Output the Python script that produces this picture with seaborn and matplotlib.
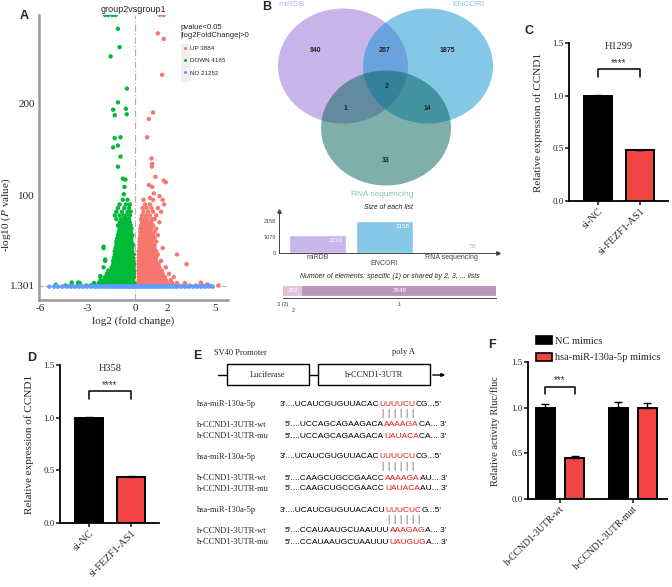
import matplotlib
matplotlib.use("Agg")
import matplotlib.pyplot as plt
from matplotlib.patches import Ellipse, Rectangle
from matplotlib.ticker import FormatStrFormatter
import seaborn as sns
import pandas as pd

sns.set_style("white")
plt.rcParams["font.family"] = ["Liberation Sans", "DejaVu Sans"]
plt.rcParams["mathtext.fontset"] = "stix"
plt.rcParams["axes.unicode_minus"] = False
SERIF = ["Liberation Serif", "DejaVu Serif"]

# ---------------- data ----------------
# A: volcano plot (log2 fold change, -log10 p)
group_labels = ["UP 3884", "DOWN 4165", "NO 21252"]
group_colors = ["#F8766D", "#00BA38", "#619CFF"]

down_rows = [
    (1.8, [-5.0, -4.4, -4.0, -3.6, -3.1, -2.8, -2.5, -2.2, -2.0, -1.8, -1.6, -1.4, -1.2, -1.0, -0.8, -0.6, -0.4, -0.25, -0.1]),
    (4.5, [-3.5, -2.6, -2.3, -2.1, -1.9, -1.7, -1.5, -1.3, -1.1, -0.9, -0.7, -0.5, -0.35, -0.2, -0.08]),
    (7.5, [-2.2, -2.0, -1.8, -1.6, -1.4, -1.2, -1.0, -0.8, -0.6, -0.45, -0.3, -0.15]),
    (11, [-2.2, -1.9, -1.7, -1.5, -1.3, -1.1, -0.9, -0.7, -0.55, -0.4, -0.25, -0.1]),
    (14.5, [-1.8, -1.6, -1.4, -1.2, -1.0, -0.85, -0.7, -0.55, -0.4, -0.25, -0.1]),
    (18, [-1.7, -1.5, -1.3, -1.1, -0.95, -0.8, -0.65, -0.5, -0.35, -0.2, -0.08]),
    (21.5, [-2.0, -1.5, -1.3, -1.15, -1.0, -0.85, -0.7, -0.55, -0.4, -0.25, -0.12]),
    (25, [-1.4, -1.25, -1.1, -0.95, -0.8, -0.65, -0.5, -0.35, -0.2, -0.08]),
    (28.5, [-1.9, -1.4, -1.2, -1.05, -0.9, -0.75, -0.6, -0.45, -0.3, -0.15]),
    (32, [-1.35, -1.2, -1.05, -0.9, -0.75, -0.6, -0.45, -0.3, -0.15]),
    (35.5, [-1.3, -1.15, -1.0, -0.85, -0.7, -0.55, -0.4, -0.25, -0.1]),
    (39, [-1.3, -1.1, -0.95, -0.8, -0.65, -0.5, -0.35, -0.2]),
    (42.5, [-2.0, -1.25, -1.1, -0.95, -0.8, -0.65, -0.5, -0.35, -0.2]),
    (46, [-1.2, -1.05, -0.9, -0.75, -0.6, -0.45, -0.3, -0.15]),
    (49.5, [-1.2, -1.0, -0.85, -0.7, -0.55, -0.4, -0.25]),
    (53, [-1.15, -1.0, -0.85, -0.7, -0.55, -0.4, -0.25]),
    (56.5, [-1.1, -0.95, -0.8, -0.65, -0.5, -0.35, -0.2]),
    (60, [-1.05, -0.9, -0.75, -0.6, -0.45, -0.3]),
    (63.5, [-1.0, -0.85, -0.7, -0.55, -0.4, -0.25]),
    (67, [-1.1, -0.9, -0.75, -0.6, -0.45, -0.3]),
    (70.5, [-1.0, -0.8, -0.65, -0.5, -0.35]),
    (74, [-1.2, -0.9, -0.7, -0.55, -0.4]),
    (78, [-1.3, -1.0, -0.75, -0.6, -0.35]),
    (82, [-1.2, -0.85, -0.5, -0.3]),
    (86, [-1.1, -0.7, -0.4]),
    (90, [-1.0, -0.6, -0.35]),
    (95, [-0.8, -0.5]),
]
down_extra_x = [-1.9, -1.7, -1.45, -1.25, -1.1, -1.0, -1.56, -0.54, -1.1, -1.4, -1.3, -0.6, -0.55,
                -1.3, -0.94, -1.4, -1.1, -0.94, -1.1, -0.79, -0.63, -0.69, -0.73, -2.0, -1.9, -2.2,
                -3.6, -4.0, -5.0]
down_extra_y = [296, 296, 296, 296, 281, 261, 251, 216, 201, 193, 187, 194, 188,
                162, 163, 152, 154, 142, 131, 118, 117, 109, 101, 44, 30, 12,
                5, 5, 2.5]

up_rows = [
    (1.8, [0.1, 0.25, 0.4, 0.55, 0.7, 0.85, 1.0, 1.15, 1.3, 1.5, 1.7, 1.9, 2.1, 2.4, 2.7, 3.0, 3.4, 3.8, 4.2, 4.6, 5.2]),
    (4.5, [0.15, 0.3, 0.45, 0.6, 0.75, 0.9, 1.05, 1.2, 1.4, 1.6, 1.8, 2.0, 2.3, 2.6, 3.1]),
    (7.5, [0.2, 0.35, 0.5, 0.65, 0.8, 0.95, 1.1, 1.3, 1.5, 1.7, 1.9, 2.2]),
    (11, [0.2, 0.35, 0.5, 0.65, 0.8, 0.95, 1.1, 1.25, 1.45, 1.65, 1.85, 2.4]),
    (14.5, [0.2, 0.35, 0.5, 0.65, 0.8, 0.95, 1.1, 1.3, 1.5, 1.7, 2.1]),
    (18, [0.2, 0.35, 0.5, 0.65, 0.8, 0.95, 1.1, 1.25, 1.45, 1.65]),
    (21.5, [0.2, 0.35, 0.5, 0.65, 0.8, 0.95, 1.1, 1.3, 1.5, 1.9]),
    (25, [0.2, 0.35, 0.5, 0.65, 0.8, 0.95, 1.1, 1.25, 1.45]),
    (28.5, [0.2, 0.35, 0.5, 0.65, 0.8, 0.95, 1.1, 1.3, 1.6]),
    (32, [0.2, 0.35, 0.5, 0.65, 0.8, 0.95, 1.1, 1.3]),
    (35.5, [0.2, 0.35, 0.5, 0.65, 0.8, 0.95, 1.15, 1.4, 2.6]),
    (39, [0.2, 0.35, 0.5, 0.65, 0.8, 0.95, 1.1, 1.3]),
    (42.5, [0.25, 0.4, 0.55, 0.7, 0.85, 1.0, 1.2, 1.7]),
    (46, [0.25, 0.4, 0.55, 0.7, 0.85, 1.0, 1.2]),
    (49.5, [0.25, 0.4, 0.55, 0.7, 0.85, 1.05, 1.3]),
    (53, [0.25, 0.4, 0.55, 0.7, 0.85, 1.0, 1.2]),
    (56.5, [0.3, 0.45, 0.6, 0.75, 0.9, 1.1, 1.4]),
    (60, [0.3, 0.45, 0.6, 0.75, 0.95, 1.2]),
    (63.5, [0.3, 0.5, 0.65, 0.8, 1.0, 1.3]),
    (67, [0.35, 0.5, 0.7, 0.9, 1.1]),
    (70.5, [0.4, 0.6, 0.8, 1.0, 1.5]),
    (74, [0.35, 0.55, 0.75, 1.0, 1.2]),
    (78, [0.4, 0.65, 0.9, 1.3]),
    (82, [0.5, 0.8, 1.1, 1.6]),
    (86, [0.45, 0.7, 1.0, 1.4]),
    (90, [0.6, 0.9, 1.8]),
    (95, [0.5, 1.1, 1.7]),
]
up_extra_x = [1.52, 1.77, 1.4, 1.77, 1.67, 1.1, 0.84, 0.73, 1.0, 1.05, 1.03, 1.25, 1.77, 1.9,
              0.84, 1.05, 1.15, 1.5, 0.9, 3.2, 4.1, 4.5]
up_extra_y = [296, 296, 276, 270, 231, 190, 183, 163, 140, 134, 131, 120, 116, 114,
              111, 109, 102, 99, 97, 25, 5, 3]

no_rows = [
    (0.5, [-5.4, -5.1, -4.85, -4.6, -4.3, -4.05, -3.8, -3.55, -3.3, -3.05, -2.8, -2.55, -2.35, -2.15,
           -1.95, -1.75, -1.55, -1.4, -1.25, -1.1, -0.95, -0.8, -0.65, -0.5, -0.35, -0.2, -0.05, 0.1,
           0.25, 0.4, 0.55, 0.7, 0.85, 1.0, 1.15, 1.3, 1.45, 1.6, 1.8, 2.0, 2.2, 2.4, 2.6, 2.85, 3.1,
           3.35, 3.6, 3.85, 4.1, 4.35, 4.6, 4.85]),
    (1.0, [-4.95, -4.5, -4.2, -3.9, -3.6, -3.4, -3.1, -2.9, -2.65, -2.45, -2.25, -2.05, -1.85, -1.65,
           -1.5, -1.32, -1.18, -1.02, -0.88, -0.72, -0.58, -0.42, -0.28, -0.12, 0.02, 0.18, 0.32, 0.48,
           0.62, 0.78, 0.92, 1.08, 1.22, 1.38, 1.52, 1.7, 1.9, 2.1, 2.3, 2.5, 2.75, 3.0, 3.2, 3.5, 3.75,
           4.0, 4.25, 4.5, 4.75]),
]

# B: Venn counts and list sizes
venn_sets = ["miRDB", "ENCORI", "RNA sequencing"]
venn_counts = [940, 267, 1875, 2, 1, 14, 33]
list_sizes = [1210, 2158, 50]
list_colors = ["#c8b6ea", "#86c8e8", "#3f7d7a"]
share_labels = ["3 (2)", "2", "1"]
share_counts = [2, 282, 2848]
share_colors = ["#6f5f70", "#dcc5dd", "#b995ba"]

# C / D: qPCR
kd_groups = ["si-NC", "si-FEZF1-AS1"]
h1299_values = [1.0, 0.48]
h1299_errors = [0.01, 0.008]
h358_values = [1.0, 0.435]
h358_errors = [0.01, 0.01]

# F: luciferase reporter
constructs = ["h-CCND1-3UTR-wt", "h-CCND1-3UTR-mut"]
treatments = ["NC mimics", "hsa-miR-130a-5p mimics"]
luc_values = {"NC mimics": [1.0, 1.0], "hsa-miR-130a-5p mimics": [0.45, 1.0]}
luc_errors = {"NC mimics": [0.035, 0.065], "hsa-miR-130a-5p mimics": [0.025, 0.05]}

# E: binding sites (prefix, seed, suffix)
mir_name = "hsa-miR-130a-5p"
mir_parts = [("3'....UCAUCGUGUUACAC", "UUUUCU", "CG...5'"),
             ("3'....UCAUCGUGUUACAC", "UUUUCU", "CG...5'"),
             ("3'....UCAUCGUGUUACACU", "UUUCUC", "G...5'")]
wt_parts = [("5'....UCCAGCAGAAGACA", "AAAAGA", "CA... 3'"),
            ("5'....CAAGCUGCCGAACC", "AAAAGA", "AU... 3'"),
            ("5'....CCAUAAUGCUAAUUU", "AAAGAG", "A... 3'")]
mu_parts = [("5'....UCCAGCAGAAGACA", "UAUACA", "CA... 3'"),
            ("5'....CAAGCUGCCGAACC", "UAUACA", "AU... 3'"),
            ("5'....CCAUAAUGCUAAUUU", "UAUGUG", "A... 3'")]

BLACK, RED = "#000000", "#F24444"

# ---------------- figure ----------------
W, H = 672, 587
fig = plt.figure(figsize=(6.72, 5.87), dpi=100)


def px_axes(x0, y0, x1, y1):
    return fig.add_axes([x0 / W, 1 - y1 / H, (x1 - x0) / W, (y1 - y0) / H])


def panel_letter(x, y, s):
    fig.text(x / W, 1 - y / H, s, fontsize=9, fontweight="bold", ha="center", va="center")


def expand(rows, ex_x, ex_y, label):
    xs = [x for _, r in rows for x in r] + ex_x
    ys = [y for y, r in rows for _ in r] + ex_y
    return pd.DataFrame({"log2fc": xs, "logp": ys, "group": label})


# ---- A ----
axA = px_axes(39, 15, 228, 300)
volcano = pd.concat([
    expand(up_rows, up_extra_x, up_extra_y, group_labels[0]),
    expand(down_rows, down_extra_x, down_extra_y, group_labels[1]),
    expand(no_rows, [], [], group_labels[2]),
], ignore_index=True)
axA.axhline(1.301, color="#b0b0b0", ls="--", lw=0.8, zorder=0)
axA.axvline(0, color="#b0b0b0", ls=(0, (6, 2, 1, 2)), lw=0.8, zorder=0)
sns.scatterplot(data=volcano, x="log2fc", y="logp", hue="group", hue_order=group_labels,
                palette=group_colors, s=10, linewidth=0, ax=axA)
axA.set_xlim(-6.05, 5.8)
axA.set_ylim(-14, 296)
axA.set_xticks([-6, -3, 0, 2, 5])
axA.set_yticks([1.301, 100, 200], ["1.301", "100", "200"])
axA.tick_params(length=2, width=0.8, color="#999999", labelsize=8, pad=1,
                labelfontfamily=SERIF)
for s in ["top", "right"]:
    axA.spines[s].set_visible(False)
for s in ["left", "bottom"]:
    axA.spines[s].set_color("#999999")
    axA.spines[s].set_linewidth(1.8)
axA.set_xlabel("log2 (fold change)", fontsize=8, family=SERIF, labelpad=2)
axA.set_ylabel("-log10 ($P$ value)", fontsize=8, family=SERIF)
axA.yaxis.set_label_coords(-0.135, 0.3)
axA.set_title("group2vsgroup1", fontsize=6.5, pad=2)
axA.add_patch(Rectangle((0.752, 0.765), 0.05, 0.135, transform=axA.transAxes,
                        color="#f0f0f0", lw=0, zorder=0.5))
handles, labels = axA.get_legend_handles_labels()
axA.legend(handles, labels, title="pvalue<0.05\n|log2FoldChange|>0", loc="upper left",
           bbox_to_anchor=(0.73, 0.98), frameon=False, fontsize=4.5, title_fontsize=5.5,
           alignment="left", handletextpad=0.1, labelspacing=1.1, markerscale=0.7,
           borderpad=0, handlelength=1.5)
panel_letter(24, 16, "A")

# ---- B: Venn ----
axV = px_axes(250, 0, 520, 200)
axV.set_xlim(250, 520)
axV.set_ylim(200, 0)
axV.axis("off")
venn_fill = ["#916dd5", "#0d91d1", "#006157"]
venn_centers = [(343, 66), (428, 66), (386, 128)]
for (cx, cy), col in zip(venn_centers, venn_fill):
    axV.add_patch(Ellipse((cx, cy), 130, 115, color=col, alpha=0.5, lw=0))
count_pos = [(316, 51), (385, 51), (447, 51), (387, 87), (346, 108), (427, 108), (386, 161)]
for (tx, ty), n in zip(count_pos, venn_counts):
    axV.text(tx, ty, str(n), fontsize=5, fontweight="bold", color="#222222", ha="center", va="center")
set_pos = [(292, 4, "#c8b6ea"), (468, 4, "#86c8e8"), (382, 194, "#8fbfbb")]
for (tx, ty, col), name in zip(set_pos, venn_sets):
    axV.text(tx, ty, name, fontsize=6, color=col, ha="center", va="center")
panel_letter(267, 7, "B")

# ---- B: size of each list ----
axS = px_axes(279, 211, 498, 253)
sns.barplot(x=venn_sets, y=list_sizes, hue=venn_sets, palette=list_colors, width=0.85,
            saturation=1, legend=False, ax=axS)
axS.set_xlim(-0.575, 2.694)
axS.set_ylim(0, 2832)
axS.set_yticks([0, 1079, 2158])
axS.tick_params(labelsize=4, length=1.5, width=0.5, pad=1, colors="#444444")
axS.tick_params(axis="x", labelsize=5, length=0)
axS.xaxis.get_major_ticks()[1].set_pad(5)
for s in ["top", "right"]:
    axS.spines[s].set_visible(False)
for s in ["left", "bottom"]:
    axS.spines[s].set_color("#444444")
    axS.spines[s].set_linewidth(0.7)
axS.plot(1, 0, ">", color="#444444", ms=2.5, transform=axS.transAxes, clip_on=False)
axS.plot(0, 1, "^", color="#444444", ms=2.5, transform=axS.transAxes, clip_on=False)
for i, v in enumerate(list_sizes):
    if v > 0.1 * max(list_sizes):
        axS.annotate(str(v), (i + 0.4, v), xytext=(-1, -2), textcoords="offset points",
                     ha="right", va="top", fontsize=4.5, color="white")
    else:
        axS.annotate(str(v), (i + 0.4, v), xytext=(-1, 2), textcoords="offset points",
                     ha="right", va="bottom", fontsize=4.5, color="#8fbfbb")
axS.set_title("Size of each list", fontsize=5, style="italic", pad=1.5)

# ---- B: shared elements ----
axN = px_axes(283, 283, 496, 298)
left = 0
mids = []
for n, col in zip(share_counts, share_colors):
    axN.barh(0.5, n, left=left, height=0.6, color=col, edgecolor=col, lw=0.6)
    mids.append(left + n / 2)
    if n > 100:
        axN.text(left + n / 2, 0.5, str(n), fontsize=4.5, color="white", ha="center", va="center")
    left += n
axN.set_xlim(0, sum(share_counts))
axN.set_ylim(0, 1)
axN.set_yticks([])
axN.set_xticks(mids, share_labels)
axN.tick_params(axis="x", labelsize=4, length=2, width=0.5, pad=1, colors="#444444")
axN.xaxis.get_major_ticks()[1].set_pad(5)
for s in ["top", "right", "left"]:
    axN.spines[s].set_visible(False)
axN.spines["bottom"].set_color("#444444")
axN.spines["bottom"].set_linewidth(0.7)
axN.set_title("Number of elements: specific (1) or shared by 2, 3, ... lists",
              fontsize=5, style="italic", pad=3.5)


# ---- C / D ----
def expression_panel(ax, values, errors, title, stars):
    sns.barplot(x=kd_groups, y=values, hue=kd_groups, palette=[BLACK, RED], width=0.65,
                edgecolor="black", linewidth=1.4, saturation=1, legend=False, ax=ax)
    bars = sorted(ax.patches, key=lambda p: p.get_x())
    for bar, e in zip(bars, errors):
        ax.errorbar(bar.get_x() + bar.get_width() / 2, bar.get_height(), yerr=[[0], [e]],
                    color="black", capsize=3, lw=1, capthick=1)
    ax.plot([0, 0, 1, 1], [1.18, 1.25, 1.25, 1.18], color="black", lw=1.1)
    ax.text(0.5, 1.31, stars, ha="center", va="center", fontsize=7, color="#333333")
    ax.text(0.5, 1.47, title, ha="center", va="center", fontsize=7.5, family=SERIF)
    ax.set_xlim(-0.69, 1.67)
    ax.set_ylim(0, 1.5)
    ax.set_yticks([0, 0.5, 1.0, 1.5])
    ax.yaxis.set_major_formatter(FormatStrFormatter("%.1f"))
    sns.despine(ax=ax)
    for s in ["left", "bottom"]:
        ax.spines[s].set_linewidth(1.3)
        ax.spines[s].set_color("black")
    ax.tick_params(direction="out", length=3, width=1.2, labelsize=6.5, pad=1,
                   labelfontfamily=SERIF, bottom=True, left=True)
    ax.tick_params(axis="x", labelsize=7.5)
    for lab in ax.get_xticklabels():
        lab.set_rotation(45)
        lab.set_ha("right")
        lab.set_rotation_mode("anchor")
    ax.set_ylabel("Relative expression of CCND1", fontsize=8, family=SERIF)
    ax.yaxis.set_label_coords(-0.26, 0.5)


axC = px_axes(569, 43, 668, 201)
expression_panel(axC, h1299_values, h1299_errors, "H1299", "****")
panel_letter(529, 31, "C")

axD = px_axes(60, 365, 159, 523)
expression_panel(axD, h358_values, h358_errors, "H358", "****")
panel_letter(32, 358, "D")

# ---- E ----
axE = px_axes(190, 340, 460, 560)
axE.set_xlim(190, 460)
axE.set_ylim(560, 340)
axE.axis("off")
axE.text(240, 353, "SV40 Promoter", fontsize=6, family=SERIF, ha="center", va="center")
axE.text(403, 352, "poly A", fontsize=6, family=SERIF, ha="center", va="center")
axE.add_patch(Rectangle((227, 364), 82, 21, fill=False, lw=1, ec="black"))
axE.add_patch(Rectangle((318, 364), 112, 21, fill=False, lw=1, ec="black"))
axE.plot([218, 227], [375, 375], color="black", lw=1)
axE.plot([309, 318], [375, 375], color="black", lw=1)
axE.annotate("", xy=(448, 375), xytext=(430, 375),
             arrowprops=dict(arrowstyle="-|>", lw=1, color="black", mutation_scale=5))
axE.text(268, 375, "Luciferase", fontsize=6, family=SERIF, ha="center", va="center")
axE.text(374, 375, "h-CCND1-3UTR", fontsize=6, family=SERIF, ha="center", va="center")


def seq_line(x, y, parts):
    t = axE.text(x, y, parts[0], fontsize=6, ha="left", va="center", color="black")
    seed = axE.annotate(parts[1], xy=(1, 0), xycoords=t, ha="left", va="bottom",
                        fontsize=6, color="#e41a1c")
    axE.annotate(parts[2], xy=(1, 0), xycoords=seed, ha="left", va="bottom",
                 fontsize=6, color="black")
    return seed


for k in range(3):
    y0 = 404 + 53 * k
    axE.text(197, y0, mir_name, fontsize=6, family=SERIF, va="center")
    axE.text(197, y0 + 21, "h-CCND1-3UTR-wt", fontsize=6, family=SERIF, va="center")
    axE.text(197, y0 + 32, "h-CCND1-3UTR-mu", fontsize=6, family=SERIF, va="center")
    seed = seq_line(280, y0, mir_parts[k])
    seq_line(285, y0 + 21, wt_parts[k])
    seq_line(285, y0 + 32, mu_parts[k])
    for i in range(6):
        axE.annotate("|", xy=((i + 0.5) / 6, 0), xycoords=seed, xytext=(0, -1),
                     textcoords="offset points", ha="center", va="top", fontsize=6.5,
                     color="#666666")
panel_letter(197, 356, "E")

# ---- F ----
axF = px_axes(528, 362, 667, 499)
luc = pd.DataFrame([
    {"construct": c, "treatment": t, "activity": luc_values[t][i]}
    for t in treatments for i, c in enumerate(constructs)
])
sns.barplot(data=luc, x="construct", y="activity", hue="treatment", hue_order=treatments,
            order=constructs, palette=[BLACK, RED], width=0.8, gap=0.35, edgecolor="black",
            linewidth=1.4, saturation=1, errorbar=None, legend=False, ax=axF)
for t, cont in zip(treatments, axF.containers):
    for bar in cont:
        i = int(round(bar.get_x() + bar.get_width() / 2))
        axF.errorbar(bar.get_x() + bar.get_width() / 2, bar.get_height(),
                     yerr=[[0], [luc_errors[t][i]]], color="black", capsize=3, lw=1, capthick=1)
axF.plot([-0.2, -0.2, 0.2, 0.2], [1.15, 1.23, 1.23, 1.15], color="black", lw=1.1)
axF.text(0, 1.3, "***", ha="center", va="center", fontsize=7, color="#333333")
axF.set_xlim(-0.44, 1.47)
axF.set_ylim(0, 1.5)
axF.set_yticks([0, 0.5, 1.0, 1.5])
axF.yaxis.set_major_formatter(FormatStrFormatter("%.1f"))
sns.despine(ax=axF)
for s in ["left", "bottom"]:
    axF.spines[s].set_linewidth(1.3)
    axF.spines[s].set_color("black")
axF.tick_params(direction="out", length=3, width=1.2, labelsize=6.5, pad=1,
                labelfontfamily=SERIF, bottom=True, left=True)
axF.tick_params(axis="x", labelsize=7)
for lab in axF.get_xticklabels():
    lab.set_rotation(45)
    lab.set_ha("right")
    lab.set_rotation_mode("anchor")
axF.set_xlabel("")
axF.set_ylabel("Relative activity Rluc/fluc", fontsize=7.5, family=SERIF)
axF.yaxis.set_label_coords(-0.2, 0.5)
leg_handles = [Rectangle((0, 0), 1, 1, facecolor=c, edgecolor="black", lw=1.2) for c in [BLACK, RED]]
fig.legend(leg_handles, treatments, loc="upper left", bbox_to_anchor=(536 / W, 1 - 336 / H),
           frameon=False, prop={"family": SERIF, "size": 7.5}, handlelength=1.5,
           handleheight=0.8, handletextpad=0.3, labelspacing=0.7, borderpad=0, borderaxespad=0)
panel_letter(492, 345, "F")

fig.savefig("out.png", dpi=100)
